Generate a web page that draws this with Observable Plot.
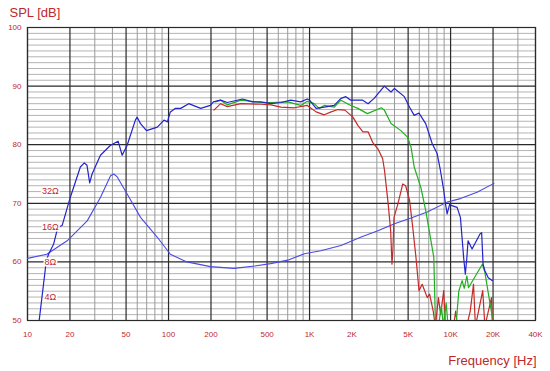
<!DOCTYPE html>
<html>
<head>
<meta charset="utf-8">
<script src="https://cdn.jsdelivr.net/npm/d3@7"></script>
<script src="https://cdn.jsdelivr.net/npm/@observablehq/plot@0.6"></script>
<style>
  html, body { margin: 0; padding: 0; background: #fff; }
  #chart svg { display: block; }
</style>
</head>
<body>
<div id="chart"></div>
<script>
// ---- axis ticks ----
const freqTicks = [10, 20, 50, 100, 200, 500, 1000, 2000, 5000, 10000, 20000, 40000];
const freqTickLabels = ["10", "20", "50", "100", "200", "500", "1K", "2K", "5K", "10K", "20K", "40K"];
const splTicks = [50, 60, 70, 80, 90, 100];

// ---- blue SPL curve ----
const blueFreq = [12.1, 13.6, 14.1, 15.3, 16.4, 17.6, 20.1, 23.7, 25.3, 26.4, 27.6, 28.7, 32.9, 38.8, 43.9, 46.9, 50.9, 58.2, 59.9, 63.3, 69.8, 83.3, 92.9, 98.2, 103, 112, 122, 139, 169, 198, 208, 234, 261, 335, 393, 452, 533, 626, 736, 866, 963, 1000, 1113, 1271, 1495, 1670, 1810, 1960, 2380, 2600, 2870, 3390, 3780, 4000, 4700, 5120, 5520, 5970, 6660, 7400, 8020, 8470, 8940, 9200, 9450, 9870, 10200, 11120, 11740, 12370, 12720, 13050, 13300, 14200, 16200, 16600, 17000, 17500, 18500, 19800];
const blueSpl  = [50, 60.2, 61.3, 63, 65.9, 66.2, 71, 76.2, 76.9, 76.5, 73.5, 75, 78.2, 79.9, 80.6, 78.2, 79.9, 84.2, 84.7, 83.6, 82.4, 83, 84.2, 83.9, 85.6, 86.2, 86.2, 87, 86.2, 86.7, 87.3, 87.6, 87.2, 87.8, 87.3, 87.3, 87, 87.2, 87.6, 87.3, 87.8, 87.6, 86.2, 86.4, 86.7, 87.9, 88.2, 87.6, 87.6, 87, 87.9, 90, 89, 89.6, 88.2, 86.4, 85, 85.4, 83.6, 80.2, 78.5, 75.6, 72.2, 69.9, 68.2, 69.9, 69.6, 69.3, 67.6, 60.8, 57.9, 60.8, 63.6, 62.2, 64.8, 65, 59.6, 58.5, 57.3, 56.8];

// ---- green SPL curve ----
const greenFreq = [215, 234, 261, 326, 452, 533, 700, 866, 963, 1080, 1170, 1271, 1495, 1670, 1960, 2200, 2570, 3230, 3390, 3780, 4440, 4950, 5240, 5520, 5820, 6150, 6660, 7600, 7800, 8200, 8600, 8900, 9300, 9600, 10500, 11000, 11430, 12070, 12500, 13050, 13400, 14500, 16800, 17500, 19000, 19800];
const greenSpl  = [87.3, 87.6, 86.8, 87.6, 87.2, 87.2, 87.3, 86.7, 87.4, 87, 86.2, 86.7, 86.4, 87.6, 86.7, 86.2, 85.3, 86.3, 85.9, 83.6, 82.4, 81.3, 79.6, 76.2, 74.5, 72.7, 68.8, 60.8, 50, 49, 52.5, 49, 53, 49, 49, 50, 55, 56.8, 55.5, 57.6, 55.6, 57, 59.6, 58.2, 53, 50.5];

// ---- red SPL curve ----
const redFreq = [210, 234, 261, 326, 452, 533, 626, 780, 963, 1113, 1271, 1422, 1590, 1780, 2030, 2200, 2390, 2600, 2800, 3050, 3300, 3400, 3610, 3760, 3840, 3900, 3970, 4230, 4580, 4800, 5120, 5390, 5680, 5970, 6290, 6830, 7100, 7530, 7800, 8200, 8500, 8940, 9200, 10500, 10860, 11200, 13000, 13780, 14540, 15000, 16900, 17500, 19500, 19800];
const redSpl  = [85.9, 87, 86.5, 87, 86.9, 86.8, 86.4, 86.3, 86.7, 85.6, 85.1, 85.6, 86, 85.9, 84.7, 83.3, 82.2, 82.2, 80.4, 79.3, 77.6, 75.6, 69.9, 65.3, 59.6, 62, 67.6, 69.9, 73.3, 73, 70.5, 65.9, 60.8, 55.1, 56.2, 53.9, 54.5, 51.6, 49, 53.9, 51, 55.1, 49, 49, 51.6, 49, 49, 51.6, 56.2, 49, 55.1, 49, 53.9, 49];

// ---- impedance curve (plotted on the dB scale) ----
const impFreq = [10, 13.7, 19.1, 26.5, 32.9, 38.8, 40.9, 43.3, 50.9, 63.3, 83.3, 103, 135, 198, 291, 408, 530, 700, 920, 1200, 1670, 2300, 3050, 4000, 5240, 6830, 9450, 11740, 15400, 20300];
const impSpl  = [60.6, 61.3, 63.6, 67, 71, 74.7, 75, 74.5, 71.6, 67.6, 64.2, 61.3, 60, 59.2, 58.9, 59.3, 59.7, 60.3, 61.4, 61.9, 62.8, 64.2, 65.3, 66.5, 67.5, 68.5, 70.2, 70.8, 71.9, 73.4];

// ---- impedance scale labels ----
const ohmLabels = ["32Ω", "16Ω", "8Ω", "4Ω"];
const ohmLevels = [72, 66, 60, 54];

const toRows = (fs, vs) => fs.map((f, i) => ({f, v: vs[i]}));
const blue = toRows(blueFreq, blueSpl);
const green = toRows(greenFreq, greenSpl);
const red = toRows(redFreq, redSpl);
const imp = toRows(impFreq, impSpl);
const ohms = ohmLabels.map((t, i) => ({t, v: ohmLevels[i]}));
const xLabels = freqTicks.map((f, i) => ({f, t: freqTickLabels[i]}));

const minorX = [];
for (const dec of [10, 100, 1000, 10000]) for (let m = 1; m <= 9; m++) {
  const f = dec * m;
  if (f <= 40000 && !freqTicks.includes(f)) minorX.push(f);
}
const minorY = d3.range(51, 100).filter(d => d % 10 !== 0);

const TXT = "#c0272d";

const chart = Plot.plot({
  width: 550,
  height: 371,
  marginLeft: 27,
  marginRight: 15,
  marginTop: 27,
  marginBottom: 51,
  style: {fontFamily: "'Liberation Sans', Arial, sans-serif", background: "#fff"},
  x: {type: "log", domain: [10, 40000], axis: null},
  y: {domain: [50, 100], axis: null},
  marks: [
    Plot.ruleY(minorY, {stroke: "#b4b4b4", strokeWidth: 1}),
    Plot.ruleX(minorX, {stroke: "#9a9a9a", strokeWidth: 1}),
    Plot.ruleY(splTicks, {stroke: "#2a2a2a", strokeWidth: 1.2}),
    Plot.ruleX(freqTicks, {stroke: "#2a2a2a", strokeWidth: 1.2}),
    Plot.frame({stroke: "#2a2a2a", strokeWidth: 1.2}),
    Plot.text(xLabels, {x: "f", frameAnchor: "bottom", dy: 16, text: "t", fill: TXT, fontSize: 8}),
    Plot.text(splTicks, {y: d => d, frameAnchor: "left", dx: -6, textAnchor: "end", text: d => String(d), fill: TXT, fontSize: 8}),
    Plot.line(imp, {x: "f", y: "v", stroke: "#4a4ae6", strokeWidth: 1.1, clip: true}),
    Plot.line(red, {x: "f", y: "v", stroke: "#c42a2a", strokeWidth: 1.2, clip: true}),
    Plot.line(green, {x: "f", y: "v", stroke: "#1fae1f", strokeWidth: 1.2, clip: true}),
    Plot.line(blue, {x: "f", y: "v", stroke: "#2323cc", strokeWidth: 1.2, clip: true}),
    Plot.text(ohms, {x: 14.5, y: "v", text: "t", fill: TXT, stroke: "#fff", strokeWidth: 3, fontSize: 9}),
    Plot.text(["SPL [dB]"], {frameAnchor: "top-left", dx: -18, dy: -15, lineAnchor: "middle", textAnchor: "start", fill: TXT, fontSize: 13}),
    Plot.text(["Frequency [Hz]"], {frameAnchor: "bottom-right", dx: 1, dy: 40, lineAnchor: "middle", textAnchor: "end", fill: TXT, fontSize: 13})
  ]
});
document.getElementById("chart").appendChild(chart);
</script>
</body>
</html>
